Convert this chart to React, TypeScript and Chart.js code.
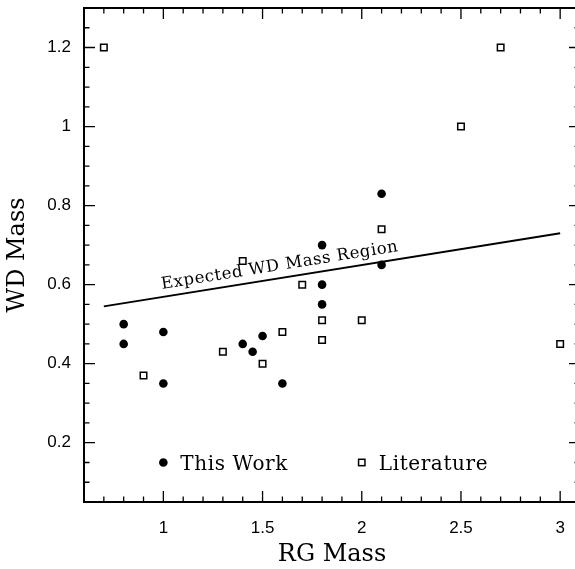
import React, { useEffect, useRef } from 'react';
import { Chart, registerables } from 'chart.js';

Chart.register(...registerables);

const thisWorkRG = [0.8, 0.8, 1.0, 1.0, 1.4, 1.45, 1.5, 1.6, 1.8, 1.8, 1.8, 2.1, 2.1];
const thisWorkWD = [0.5, 0.45, 0.48, 0.35, 0.45, 0.43, 0.47, 0.35, 0.7, 0.6, 0.55, 0.83, 0.65];
const literatureRG = [0.7, 0.9, 1.3, 1.4, 1.5, 1.6, 1.7, 1.8, 1.8, 2.0, 2.1, 2.5, 2.7, 3.0];
const literatureWD = [1.2, 0.37, 0.43, 0.66, 0.4, 0.48, 0.6, 0.51, 0.46, 0.51, 0.74, 1.0, 1.2, 0.45];
const expectedRG = [0.7, 3.0];
const expectedWD = [0.545, 0.73];
const xMajorTicks = [1, 1.5, 2, 2.5, 3];
const yMajorTicks = [0.2, 0.4, 0.6, 0.8, 1, 1.2];
const legendLabels = ['This Work', 'Literature'];
const legendRG = [1.0, 2.0];
const legendWD = 0.15;
const regionLabel = 'Expected WD Mass Region';
const regionLabelRG = 1.0;

const isMajor = (list: number[], v: number) => list.find((m) => Math.abs(m - v) < 1e-6);

const framePlugin = {
  id: 'framePlugin',
  afterDraw(chart: any) {
    const { ctx, chartArea } = chart;
    const xs = chart.scales.x;
    const ys = chart.scales.y;
    const { left, right, top, bottom } = chartArea;
    ctx.save();
    ctx.strokeStyle = '#000';
    ctx.fillStyle = '#000';
    // ticks
    ctx.lineWidth = 1.3;
    ctx.beginPath();
    xs.ticks.forEach((t: any) => {
      const px = xs.getPixelForValue(t.value);
      const len = isMajor(xMajorTicks, t.value) !== undefined ? 11 : 5.5;
      ctx.moveTo(px, bottom);
      ctx.lineTo(px, bottom - len);
      ctx.moveTo(px, top);
      ctx.lineTo(px, top + len);
    });
    ys.ticks.forEach((t: any) => {
      const py = ys.getPixelForValue(t.value);
      const len = isMajor(yMajorTicks, t.value) !== undefined ? 11 : 5.5;
      ctx.moveTo(left, py);
      ctx.lineTo(left + len, py);
      ctx.moveTo(right, py);
      ctx.lineTo(right - len, py);
    });
    ctx.stroke();
    // frame
    ctx.lineWidth = 2;
    ctx.strokeRect(left, top, right - left, bottom - top);

    // region label
    const p0x = xs.getPixelForValue(expectedRG[0]);
    const p0y = ys.getPixelForValue(expectedWD[0]);
    const p1x = xs.getPixelForValue(expectedRG[1]);
    const p1y = ys.getPixelForValue(expectedWD[1]);
    const ang = Math.atan2(p1y - p0y, p1x - p0x);
    const ax = xs.getPixelForValue(regionLabelRG);
    const ay = p0y + ((ax - p0x) * (p1y - p0y)) / (p1x - p0x);
    ctx.save();
    ctx.translate(ax, ay);
    ctx.rotate(ang);
    ctx.font = '16.5px "DejaVu Serif"';
    (ctx as any).letterSpacing = '0.6px';
    ctx.textAlign = 'left';
    ctx.textBaseline = 'alphabetic';
    ctx.fillText(regionLabel, 0, -8);
    ctx.restore();

    // legend
    const ly = ys.getPixelForValue(legendWD);
    ctx.font = '20px "DejaVu Serif"';
    (ctx as any).letterSpacing = '0.6px';
    ctx.textAlign = 'left';
    ctx.textBaseline = 'alphabetic';
    legendLabels.forEach((lab, i) => {
      const lx = xs.getPixelForValue(legendRG[i]);
      if (i === 0) {
        ctx.beginPath();
        ctx.arc(lx, ly, 4.3, 0, Math.PI * 2);
        ctx.fill();
      } else {
        ctx.lineWidth = 1.5;
        ctx.fillStyle = '#fff';
        ctx.fillRect(lx - 3.2, ly - 3.2, 6.4, 6.4);
        ctx.strokeRect(lx - 3.2, ly - 3.2, 6.4, 6.4);
        ctx.fillStyle = '#000';
      }
      ctx.fillText(lab, lx + 17, ly + 7.4);
    });
    (ctx as any).letterSpacing = '0px';
    ctx.restore();
  },
};

export default function App() {
  const ref = useRef<HTMLCanvasElement>(null);
  useEffect(() => {
    if (!ref.current) return;
    const chart = new Chart(ref.current, {
      type: 'scatter',
      data: {
        datasets: [
          {
            label: 'Expected',
            data: expectedRG.map((x, i) => ({ x, y: expectedWD[i] })),
            showLine: true,
            borderColor: '#000',
            borderWidth: 2,
            pointRadius: 0,
            fill: false,
          },
          {
            label: 'Literature',
            data: literatureRG.map((x, i) => ({ x, y: literatureWD[i] })),
            pointStyle: 'rect',
            pointRadius: 4.6,
            backgroundColor: '#fff',
            borderColor: '#000',
            borderWidth: 1.5,
          },
          {
            label: 'This Work',
            data: thisWorkRG.map((x, i) => ({ x, y: thisWorkWD[i] })),
            pointStyle: 'circle',
            pointRadius: 4.3,
            backgroundColor: '#000',
            borderColor: '#000',
            borderWidth: 0,
          },
        ],
      },
      options: {
        animation: false,
        responsive: false,
        devicePixelRatio: 1,
        layout: { padding: { top: 8, right: 20, left: 0, bottom: 0 } },
        plugins: { legend: { display: false }, tooltip: { enabled: false } },
        scales: {
          x: {
            type: 'linear',
            position: 'bottom',
            min: 0.6,
            max: 3.1,
            grid: { display: false, drawTicks: false },
            border: { display: false },
            ticks: {
              stepSize: 0.1,
              autoSkip: false,
              maxRotation: 0,
              minRotation: 0,
              padding: 16,
              color: '#000',
              font: { family: '"Liberation Sans", Arial, sans-serif', size: 17 },
              callback: (v: any) => {
                const m = isMajor(xMajorTicks, Number(v));
                return m !== undefined ? String(m) : '';
              },
            },
            title: {
              display: true,
              text: 'RG Mass',
              color: '#000',
              font: { family: '"DejaVu Serif"', size: 24 },
              padding: { top: 0, bottom: 0 },
            },
            afterFit: (s: any) => {
              s.height = 67;
              s.paddingLeft = 0;
              s.paddingRight = 0;
            },
          },
          y: {
            type: 'linear',
            position: 'left',
            min: 0.05,
            max: 1.3,
            grid: { display: false, drawTicks: false },
            border: { display: false },
            ticks: {
              stepSize: 0.05,
              autoSkip: false,
              padding: 13,
              color: '#000',
              font: { family: '"Liberation Sans", Arial, sans-serif', size: 17 },
              callback: (v: any) => {
                const m = isMajor(yMajorTicks, Number(v));
                return m !== undefined ? String(m) : '';
              },
            },
            title: {
              display: true,
              text: 'WD Mass',
              color: '#000',
              font: { family: '"DejaVu Serif"', size: 24 },
              padding: { top: 3, bottom: 0 },
            },
            afterFit: (s: any) => {
              s.width = 84;
              s.paddingTop = 0;
              s.paddingBottom = 0;
            },
          },
        },
      },
      plugins: [framePlugin],
    });
    return () => chart.destroy();
  }, []);
  return (
    <div
      style={{
        position: 'fixed',
        left: 0,
        top: 0,
        width: 575,
        height: 569,
        overflow: 'hidden',
        background: '#fff',
      }}
    >
      <canvas ref={ref} width={600} height={569} style={{ display: 'block', width: 600, height: 569 }} />
    </div>
  );
}
